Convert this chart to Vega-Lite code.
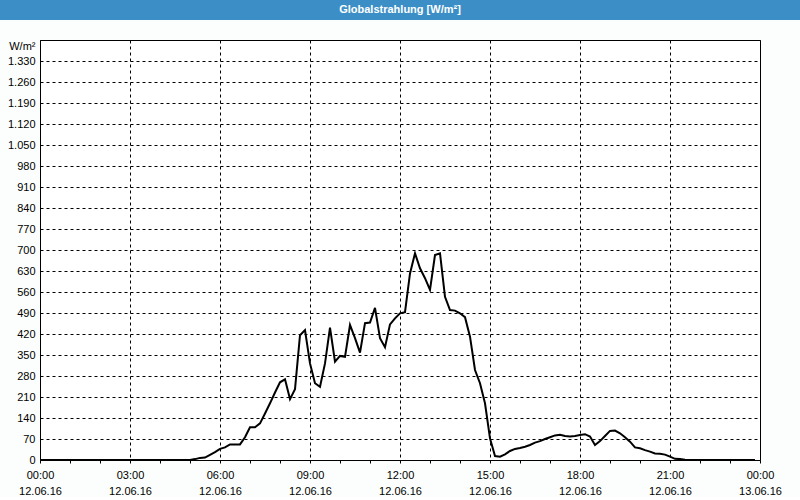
{
  "$schema": "https://vega.github.io/schema/vega-lite/v6.json",
  "padding": 0,
  "background": "#fcfefd",
  "spacing": 20,
  "bounds": "flush",
  "center": true,
  "config": {
    "font": "Liberation Sans",
    "axis": {"labelFont": "Liberation Sans", "labelFontSize": 11, "labelColor": "black", "titleFont": "Liberation Sans"}
  },
  "vconcat": [
    {
      "width": 800,
      "height": 20,
      "view": {"fill": "#3c8fc6", "stroke": null},
      "data": {"values": [{"titel": "Globalstrahlung [W/m²]"}]},
      "mark": {"type": "text", "color": "white", "fontWeight": "bold", "fontSize": 11, "font": "Liberation Sans", "baseline": "middle", "align": "center"},
      "encoding": {"text": {"field": "titel"}}
    },
    {
      "width": 720,
      "height": 420,
      "view": {"stroke": "black", "strokeWidth": 1, "fill": "white"},
      "data": {"values": [
        {"zeit": "2016-06-12T00:00:00", "wert": 0},
        {"zeit": "2016-06-12T01:00:00", "wert": 0},
        {"zeit": "2016-06-12T02:00:00", "wert": 0},
        {"zeit": "2016-06-12T03:00:00", "wert": 0},
        {"zeit": "2016-06-12T04:00:00", "wert": 0},
        {"zeit": "2016-06-12T05:00:00", "wert": 0},
        {"zeit": "2016-06-12T05:10:00", "wert": 3},
        {"zeit": "2016-06-12T05:20:00", "wert": 7},
        {"zeit": "2016-06-12T05:30:00", "wert": 8},
        {"zeit": "2016-06-12T05:40:00", "wert": 17},
        {"zeit": "2016-06-12T05:50:00", "wert": 26},
        {"zeit": "2016-06-12T06:00:00", "wert": 37},
        {"zeit": "2016-06-12T06:10:00", "wert": 42},
        {"zeit": "2016-06-12T06:20:00", "wert": 52},
        {"zeit": "2016-06-12T06:30:00", "wert": 52},
        {"zeit": "2016-06-12T06:40:00", "wert": 52},
        {"zeit": "2016-06-12T06:50:00", "wert": 76},
        {"zeit": "2016-06-12T07:00:00", "wert": 109},
        {"zeit": "2016-06-12T07:10:00", "wert": 109},
        {"zeit": "2016-06-12T07:20:00", "wert": 122},
        {"zeit": "2016-06-12T07:30:00", "wert": 155},
        {"zeit": "2016-06-12T07:40:00", "wert": 189},
        {"zeit": "2016-06-12T07:50:00", "wert": 225},
        {"zeit": "2016-06-12T08:00:00", "wert": 259},
        {"zeit": "2016-06-12T08:10:00", "wert": 269},
        {"zeit": "2016-06-12T08:20:00", "wert": 203},
        {"zeit": "2016-06-12T08:30:00", "wert": 236},
        {"zeit": "2016-06-12T08:40:00", "wert": 416},
        {"zeit": "2016-06-12T08:50:00", "wert": 433},
        {"zeit": "2016-06-12T09:00:00", "wert": 322},
        {"zeit": "2016-06-12T09:10:00", "wert": 256},
        {"zeit": "2016-06-12T09:20:00", "wert": 244},
        {"zeit": "2016-06-12T09:30:00", "wert": 322},
        {"zeit": "2016-06-12T09:40:00", "wert": 441},
        {"zeit": "2016-06-12T09:50:00", "wert": 328},
        {"zeit": "2016-06-12T10:00:00", "wert": 347},
        {"zeit": "2016-06-12T10:10:00", "wert": 344},
        {"zeit": "2016-06-12T10:20:00", "wert": 450},
        {"zeit": "2016-06-12T10:30:00", "wert": 406},
        {"zeit": "2016-06-12T10:40:00", "wert": 358},
        {"zeit": "2016-06-12T10:50:00", "wert": 456},
        {"zeit": "2016-06-12T11:00:00", "wert": 458},
        {"zeit": "2016-06-12T11:10:00", "wert": 507},
        {"zeit": "2016-06-12T11:20:00", "wert": 406},
        {"zeit": "2016-06-12T11:30:00", "wert": 376},
        {"zeit": "2016-06-12T11:40:00", "wert": 452},
        {"zeit": "2016-06-12T11:50:00", "wert": 472},
        {"zeit": "2016-06-12T12:00:00", "wert": 489},
        {"zeit": "2016-06-12T12:10:00", "wert": 493},
        {"zeit": "2016-06-12T12:20:00", "wert": 622},
        {"zeit": "2016-06-12T12:30:00", "wert": 689},
        {"zeit": "2016-06-12T12:40:00", "wert": 639},
        {"zeit": "2016-06-12T12:50:00", "wert": 606},
        {"zeit": "2016-06-12T13:00:00", "wert": 567},
        {"zeit": "2016-06-12T13:10:00", "wert": 683},
        {"zeit": "2016-06-12T13:20:00", "wert": 689},
        {"zeit": "2016-06-12T13:30:00", "wert": 544},
        {"zeit": "2016-06-12T13:40:00", "wert": 500},
        {"zeit": "2016-06-12T13:50:00", "wert": 498},
        {"zeit": "2016-06-12T14:00:00", "wert": 489},
        {"zeit": "2016-06-12T14:10:00", "wert": 476},
        {"zeit": "2016-06-12T14:20:00", "wert": 411},
        {"zeit": "2016-06-12T14:30:00", "wert": 300},
        {"zeit": "2016-06-12T14:40:00", "wert": 256},
        {"zeit": "2016-06-12T14:50:00", "wert": 189},
        {"zeit": "2016-06-12T15:00:00", "wert": 72},
        {"zeit": "2016-06-12T15:10:00", "wert": 13},
        {"zeit": "2016-06-12T15:20:00", "wert": 11},
        {"zeit": "2016-06-12T15:30:00", "wert": 19},
        {"zeit": "2016-06-12T15:40:00", "wert": 30},
        {"zeit": "2016-06-12T15:50:00", "wert": 37},
        {"zeit": "2016-06-12T16:00:00", "wert": 40},
        {"zeit": "2016-06-12T16:10:00", "wert": 44},
        {"zeit": "2016-06-12T16:20:00", "wert": 50},
        {"zeit": "2016-06-12T16:30:00", "wert": 58},
        {"zeit": "2016-06-12T16:40:00", "wert": 63},
        {"zeit": "2016-06-12T16:50:00", "wert": 70},
        {"zeit": "2016-06-12T17:00:00", "wert": 76},
        {"zeit": "2016-06-12T17:10:00", "wert": 82},
        {"zeit": "2016-06-12T17:20:00", "wert": 84},
        {"zeit": "2016-06-12T17:30:00", "wert": 80},
        {"zeit": "2016-06-12T17:40:00", "wert": 78},
        {"zeit": "2016-06-12T17:50:00", "wert": 80},
        {"zeit": "2016-06-12T18:00:00", "wert": 83},
        {"zeit": "2016-06-12T18:10:00", "wert": 86},
        {"zeit": "2016-06-12T18:20:00", "wert": 78},
        {"zeit": "2016-06-12T18:30:00", "wert": 50},
        {"zeit": "2016-06-12T18:40:00", "wert": 63},
        {"zeit": "2016-06-12T18:50:00", "wert": 80},
        {"zeit": "2016-06-12T19:00:00", "wert": 97},
        {"zeit": "2016-06-12T19:10:00", "wert": 98},
        {"zeit": "2016-06-12T19:20:00", "wert": 89},
        {"zeit": "2016-06-12T19:30:00", "wert": 76},
        {"zeit": "2016-06-12T19:40:00", "wert": 61},
        {"zeit": "2016-06-12T19:50:00", "wert": 42},
        {"zeit": "2016-06-12T20:00:00", "wert": 39},
        {"zeit": "2016-06-12T20:10:00", "wert": 33},
        {"zeit": "2016-06-12T20:20:00", "wert": 28},
        {"zeit": "2016-06-12T20:30:00", "wert": 22},
        {"zeit": "2016-06-12T20:40:00", "wert": 21},
        {"zeit": "2016-06-12T20:50:00", "wert": 18},
        {"zeit": "2016-06-12T21:00:00", "wert": 11},
        {"zeit": "2016-06-12T21:10:00", "wert": 4},
        {"zeit": "2016-06-12T21:20:00", "wert": 3},
        {"zeit": "2016-06-12T21:30:00", "wert": 1},
        {"zeit": "2016-06-12T22:00:00", "wert": 0},
        {"zeit": "2016-06-12T23:00:00", "wert": 0},
        {"zeit": "2016-06-12T23:50:00", "wert": 0}
      ]},
      "mark": {"type": "line", "color": "black", "strokeWidth": 2, "clip": true},
      "encoding": {
        "x": {
          "field": "zeit", "type": "temporal",
          "scale": {"domain": [{"year": 2016, "month": 6, "date": 12, "hours": 0}, {"year": 2016, "month": 6, "date": 13, "hours": 0}], "nice": false},
          "axis": {
            "title": null,
            "tickCount": 24,
            "format": "%H:%M|%d.%m.%y",
            "labelExpr": "round(datum.index * 24) % 3 == 0 ? split(datum.label, '|') : ''",
            "gridOpacity": {"condition": {"test": "round(datum.index * 24) % 3 != 0", "value": 0}, "value": 1},
            "gridDash": [3, 3],
            "gridColor": "black",
            "tickSize": 3,
            "tickColor": "black",
            "domainColor": "black",
            "labelPadding": 6,
            "labelLineHeight": 16,
            "labelFlush": false,
            "labelOverlap": false,
            "labelBound": false
          }
        },
        "y": {
          "field": "wert", "type": "quantitative",
          "scale": {"domain": [0, 1400], "nice": false},
          "axis": {
            "values": [0, 70, 140, 210, 280, 350, 420, 490, 560, 630, 700, 770, 840, 910, 980, 1050, 1120, 1190, 1260, 1330],
            "labelExpr": "replace(format(datum.value, ','), ',', '.')",
            "ticks": false,
            "labelPadding": 5,
            "gridDash": [3, 3],
            "gridColor": "black",
            "domainColor": "black",
            "labelOverlap": false,
            "title": "W/m²",
            "titleAngle": 0,
            "titleAlign": "right",
            "titleBaseline": "middle",
            "titleX": -5,
            "titleY": 6,
            "titleFontWeight": "normal",
            "titleFontSize": 11,
            "titleColor": "black"
          }
        }
      }
    }
  ]
}
